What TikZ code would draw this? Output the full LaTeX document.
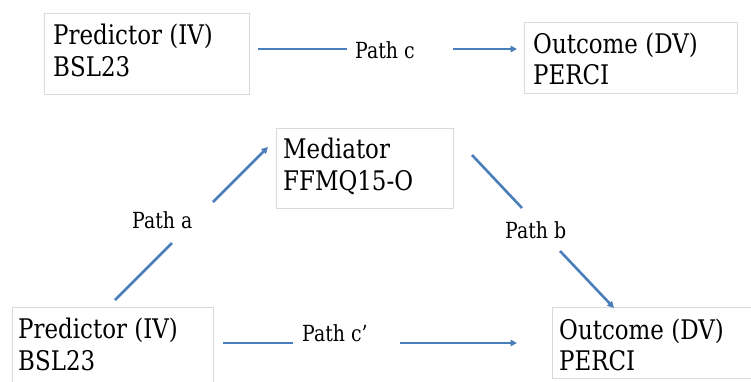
\documentclass[tikz,border=0pt]{standalone}
\usepackage{fontspec}
\setmainfont{DejaVu Serif}[FakeStretch=0.85]
\usetikzlibrary{arrows.meta}
\definecolor{linkblue}{HTML}{4A7EBB}
\definecolor{boxgray}{HTML}{D9D9D9}
\tikzset{
  box/.style={draw=boxgray, line width=0.9pt, fill=white, rectangle, anchor=north west, inner sep=0pt},
  boxtxt/.style={anchor=base west, inner sep=0pt, font=\fontsize{27}{32}\selectfont, text=black},
  pathlbl/.style={anchor=base west, inner sep=0pt, font=\fontsize{22.2}{26}\selectfont, text=black},
  link/.style={draw=linkblue, line width=2.6pt},
  linkarrow/.style={link, -{Triangle[length=6.5pt,width=6.5pt]}}
}
\begin{document}
\begin{tikzpicture}[x=1pt,y=-1pt]
\useasboundingbox (0,0) rectangle (751,381);
% boxes
\node[box, minimum width=205pt, minimum height=81pt] (p1) at (44,13) {};
\node[box, minimum width=213pt, minimum height=71pt] (o1) at (524,22) {};
\node[box, minimum width=177pt, minimum height=80pt] (med) at (276,128) {};
\node[box, minimum width=201pt, minimum height=90pt] (p2) at (12,307) {};
\node[box, minimum width=210pt, minimum height=71pt] (o2) at (552,307) {};
% box texts
\node[boxtxt] (p1a) at (53,44.5) {Predictor (IV)};
\node[boxtxt] (p1b) at (53,76) {BSL23};
\node[boxtxt] (o1a) at (533,53) {Outcome (DV)};
\node[boxtxt] (o1b) at (533,84) {PERCI};
\node[boxtxt] (meda) at (283,158) {Mediator};
\node[boxtxt] (medb) at (283,190) {FFMQ15-O};
\node[boxtxt] (p2a) at (18,338) {Predictor (IV)};
\node[boxtxt] (p2b) at (18,370) {BSL23};
\node[boxtxt] (o2a) at (559,339) {Outcome (DV)};
\node[boxtxt] (o2b) at (559,370) {PERCI};
% path labels
\node[pathlbl] (lc) at (355,58) {Path c};
\node[pathlbl] (la) at (132,228) {Path a};
\node[pathlbl] (lb) at (505,238) {Path b};
\node[pathlbl] (lcp) at (302,341) {Path c’};
% connector end points
\coordinate (c1) at (258,49);
\coordinate (c2) at (347,49);
\coordinate (c3) at (453,49);
\coordinate (c4) at (517,49);
\coordinate (a1) at (115,300);
\coordinate (a2) at (172,243);
\coordinate (a3) at (213,202);
\coordinate (a4) at (268,147);
\coordinate (b1) at (472,155);
\coordinate (b2) at (522,208);
\coordinate (b3) at (560,251);
\coordinate (b4) at (614,308);
\coordinate (d1) at (223,343);
\coordinate (d2) at (293,343);
\coordinate (d3) at (400,343);
\coordinate (d4) at (517,343);
% connectors
\draw[link] (c1) -- (c2);
\draw[linkarrow] (c3) -- (c4);
\draw[link] (a1) -- (a2);
\draw[linkarrow] (a3) -- (a4);
\draw[link] (b1) -- (b2);
\draw[linkarrow] (b3) -- (b4);
\draw[link] (d1) -- (d2);
\draw[linkarrow] (d3) -- (d4);
\end{tikzpicture}
\end{document}
